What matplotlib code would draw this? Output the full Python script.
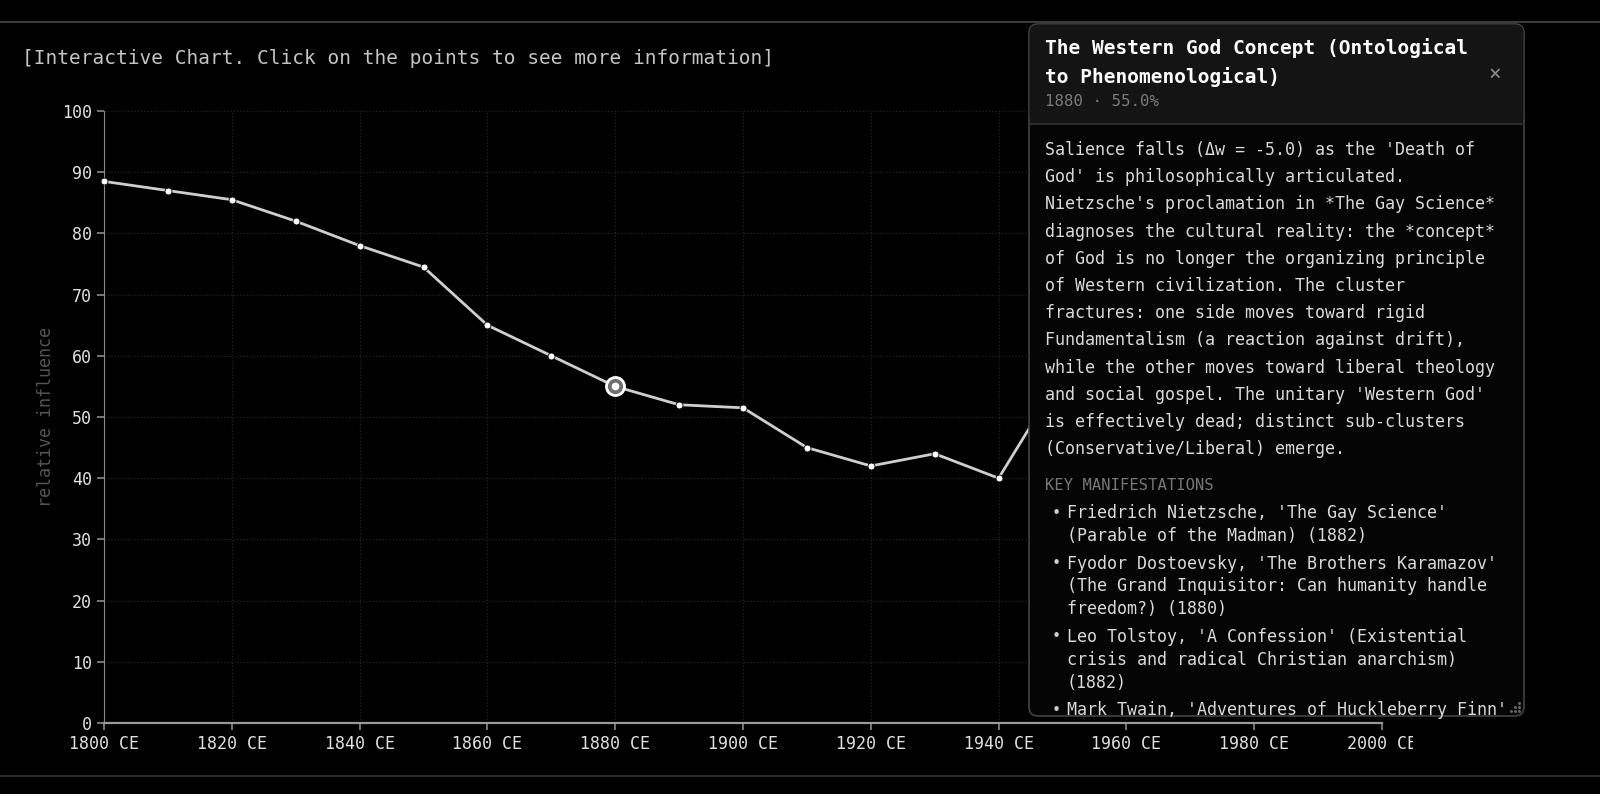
import matplotlib.pyplot as plt
from matplotlib.patches import FancyBboxPatch, Rectangle
from matplotlib.lines import Line2D
from matplotlib.transforms import Bbox

plt.rcParams['font.family'] = ['DejaVu Sans Mono']

# data
years = [1800, 1810, 1820, 1830, 1840, 1850, 1860, 1870, 1880, 1890,
         1900, 1910, 1920, 1930, 1940, 1950]
influence = [88.5, 87, 85.5, 82, 78, 74.5, 65, 60, 55, 52,
             51.5, 45, 42, 44, 40, 57]
selected_year = 1880
selected_value = 55.0
x_ticks = [1800, 1820, 1840, 1860, 1880, 1900, 1920, 1940, 1960, 1980, 2000]
x_labels = [f"{y} CE" for y in x_ticks]
y_ticks = list(range(0, 101, 10))

panel_title = ["The Western God Concept (Ontological",
               "to Phenomenological)"]
panel_sub = f"{selected_year} · {selected_value:.1f}%"
panel_body = [
    "Salience falls (Δw = -5.0) as the 'Death of",
    "God' is philosophically articulated.",
    "Nietzsche's proclamation in *The Gay Science*",
    "diagnoses the cultural reality: the *concept*",
    "of God is no longer the organizing principle",
    "of Western civilization. The cluster",
    "fractures: one side moves toward rigid",
    "Fundamentalism (a reaction against drift),",
    "while the other moves toward liberal theology",
    "and social gospel. The unitary 'Western God'",
    "is effectively dead; distinct sub-clusters",
    "(Conservative/Liberal) emerge.",
]
manifestations = [
    ["Friedrich Nietzsche, 'The Gay Science'",
     "(Parable of the Madman) (1882)"],
    ["Fyodor Dostoevsky, 'The Brothers Karamazov'",
     "(The Grand Inquisitor: Can humanity handle",
     "freedom?) (1880)"],
    ["Leo Tolstoy, 'A Confession' (Existential",
     "crisis and radical Christian anarchism)",
     "(1882)"],
    ["Mark Twain, 'Adventures of Huckleberry Finn'"],
]

W, H = 1600, 794
fig = plt.figure(figsize=(16, 7.94), dpi=100, facecolor='black')


def fig_rect(x0, y0, x1, y1):
    # pixel box (top-left origin) -> figure fraction [l, b, w, h]
    return [x0 / W, 1 - y1 / H, (x1 - x0) / W, (y1 - y0) / H]


# outer frame lines
fig.add_artist(Line2D([0, 1], [1 - 22 / H, 1 - 22 / H], transform=fig.transFigure,
                      color='#3a3a3a', lw=1.5))
fig.add_artist(Line2D([0, 1], [1 - 776 / H, 1 - 776 / H], transform=fig.transFigure,
                      color='#2a2a2a', lw=1.5))

fig.text(22 / W, 1 - 58 / H,
         "[Interactive Chart. Click on the points to see more information]",
         color='#c4c4c4', fontsize=14, va='center', ha='left')

ax = fig.add_axes(fig_rect(104, 111, 1382, 723))
ax.set_facecolor('black')
ax.plot(years, influence, color='#cfcfcf', lw=2, zorder=3, clip_on=False)
ax.plot(years, influence, 'o', ms=5, mfc='white', mec='black', mew=0.6,
        zorder=4, clip_on=False)
ax.plot([selected_year], [selected_value], 'o', ms=13, mfc='#6e6e6e',
        mec='white', mew=2, zorder=5)
ax.plot([selected_year], [selected_value], 'o', ms=4.5, mfc='white',
        mec='white', zorder=6)

ax.set_xlim(1800, 2000)
ax.set_ylim(0, 100)
ax.set_xticks(x_ticks)
ax.set_xticklabels(x_labels)
ax.set_yticks(y_ticks)
ax.grid(True, color='#262626', ls=':', lw=0.9)
ax.set_axisbelow(True)
for s in ['top', 'right']:
    ax.spines[s].set_visible(False)
ax.spines['left'].set_color('#8a8a8a')
ax.spines['bottom'].set_color('#9a9a9a')
ax.spines['bottom'].set_linewidth(1.6)
ax.tick_params(colors='#8a8a8a', labelcolor='#e0e0e0', length=5,
               labelsize=12, width=1.2)
ax.set_ylabel("relative influence", color='#555555', fontsize=12, labelpad=5)

# the chart area is cut off on the right, through the last tick label
last_lab = ax.get_xticklabels()[-1]
last_lab.set_clip_on(True)
last_lab.set_clip_box(Bbox.from_extents(0, 0, 1413, H))

# info panel
px0, py0, px1, py1 = 1028, 23, 1525, 717
pw, ph = px1 - px0, py1 - py0
pax = fig.add_axes(fig_rect(px0, py0, px1, py1))
pax.set_xlim(0, pw)
pax.set_ylim(ph, 0)
pax.axis('off')
pax.add_patch(FancyBboxPatch((1, 1), pw - 2, ph - 2,
                             boxstyle='round,pad=0,rounding_size=9',
                             fc='#050505', ec='#444444', lw=1.2, zorder=0))
pax.add_patch(FancyBboxPatch((1.6, 1.6), pw - 3.2, 99,
                             boxstyle='round,pad=0,rounding_size=8',
                             fc='#141414', ec='none', zorder=1))
pax.add_patch(Rectangle((1.6, 60), pw - 3.2, 41, fc='#141414', ec='none', zorder=1))
pax.plot([1, pw - 1], [101, 101], color='#333333', lw=1.2, zorder=2)

tx = 17
for i, line in enumerate(panel_title):
    pax.text(tx, 25 + i * 29, line, color='white', fontsize=14,
             fontweight='bold', va='center', zorder=3)
pax.text(tx, 79, panel_sub, color='#7a7a7a', fontsize=11.3, va='center', zorder=3)
pax.text(467, 51, "×", color='#8a8a8a', fontsize=15, ha='center', va='center', zorder=3)

for i, line in enumerate(panel_body):
    pax.text(tx, 127 + i * 27.2, line, color='#dadada', fontsize=12,
             va='center', zorder=3)

pax.text(tx, 462, "KEY MANIFESTATIONS", color='#777777', fontsize=11.2,
         va='center', zorder=3)

clip = Rectangle((0, 0), pw, ph - 2, transform=pax.transData)
y = 490
for item in manifestations:
    t = pax.text(28, y, "•", color='#cfcfcf', fontsize=11, ha='center',
                 va='center', zorder=3)
    t.set_clip_path(clip)
    for line in item:
        t = pax.text(39, y, line, color='#dadada', fontsize=12, va='center',
                     zorder=3)
        t.set_clip_path(clip)
        y += 22.8
    y += 5

# small resize grip in the panel corner
for gx, gy in [(pw - 6, ph - 6), (pw - 10, ph - 6), (pw - 6, ph - 10),
               (pw - 14, ph - 6), (pw - 10, ph - 10), (pw - 6, ph - 14)]:
    pax.plot(gx, gy, 's', ms=1, color='#666666', zorder=4)

fig.savefig('out.png', dpi=100, facecolor='black')
